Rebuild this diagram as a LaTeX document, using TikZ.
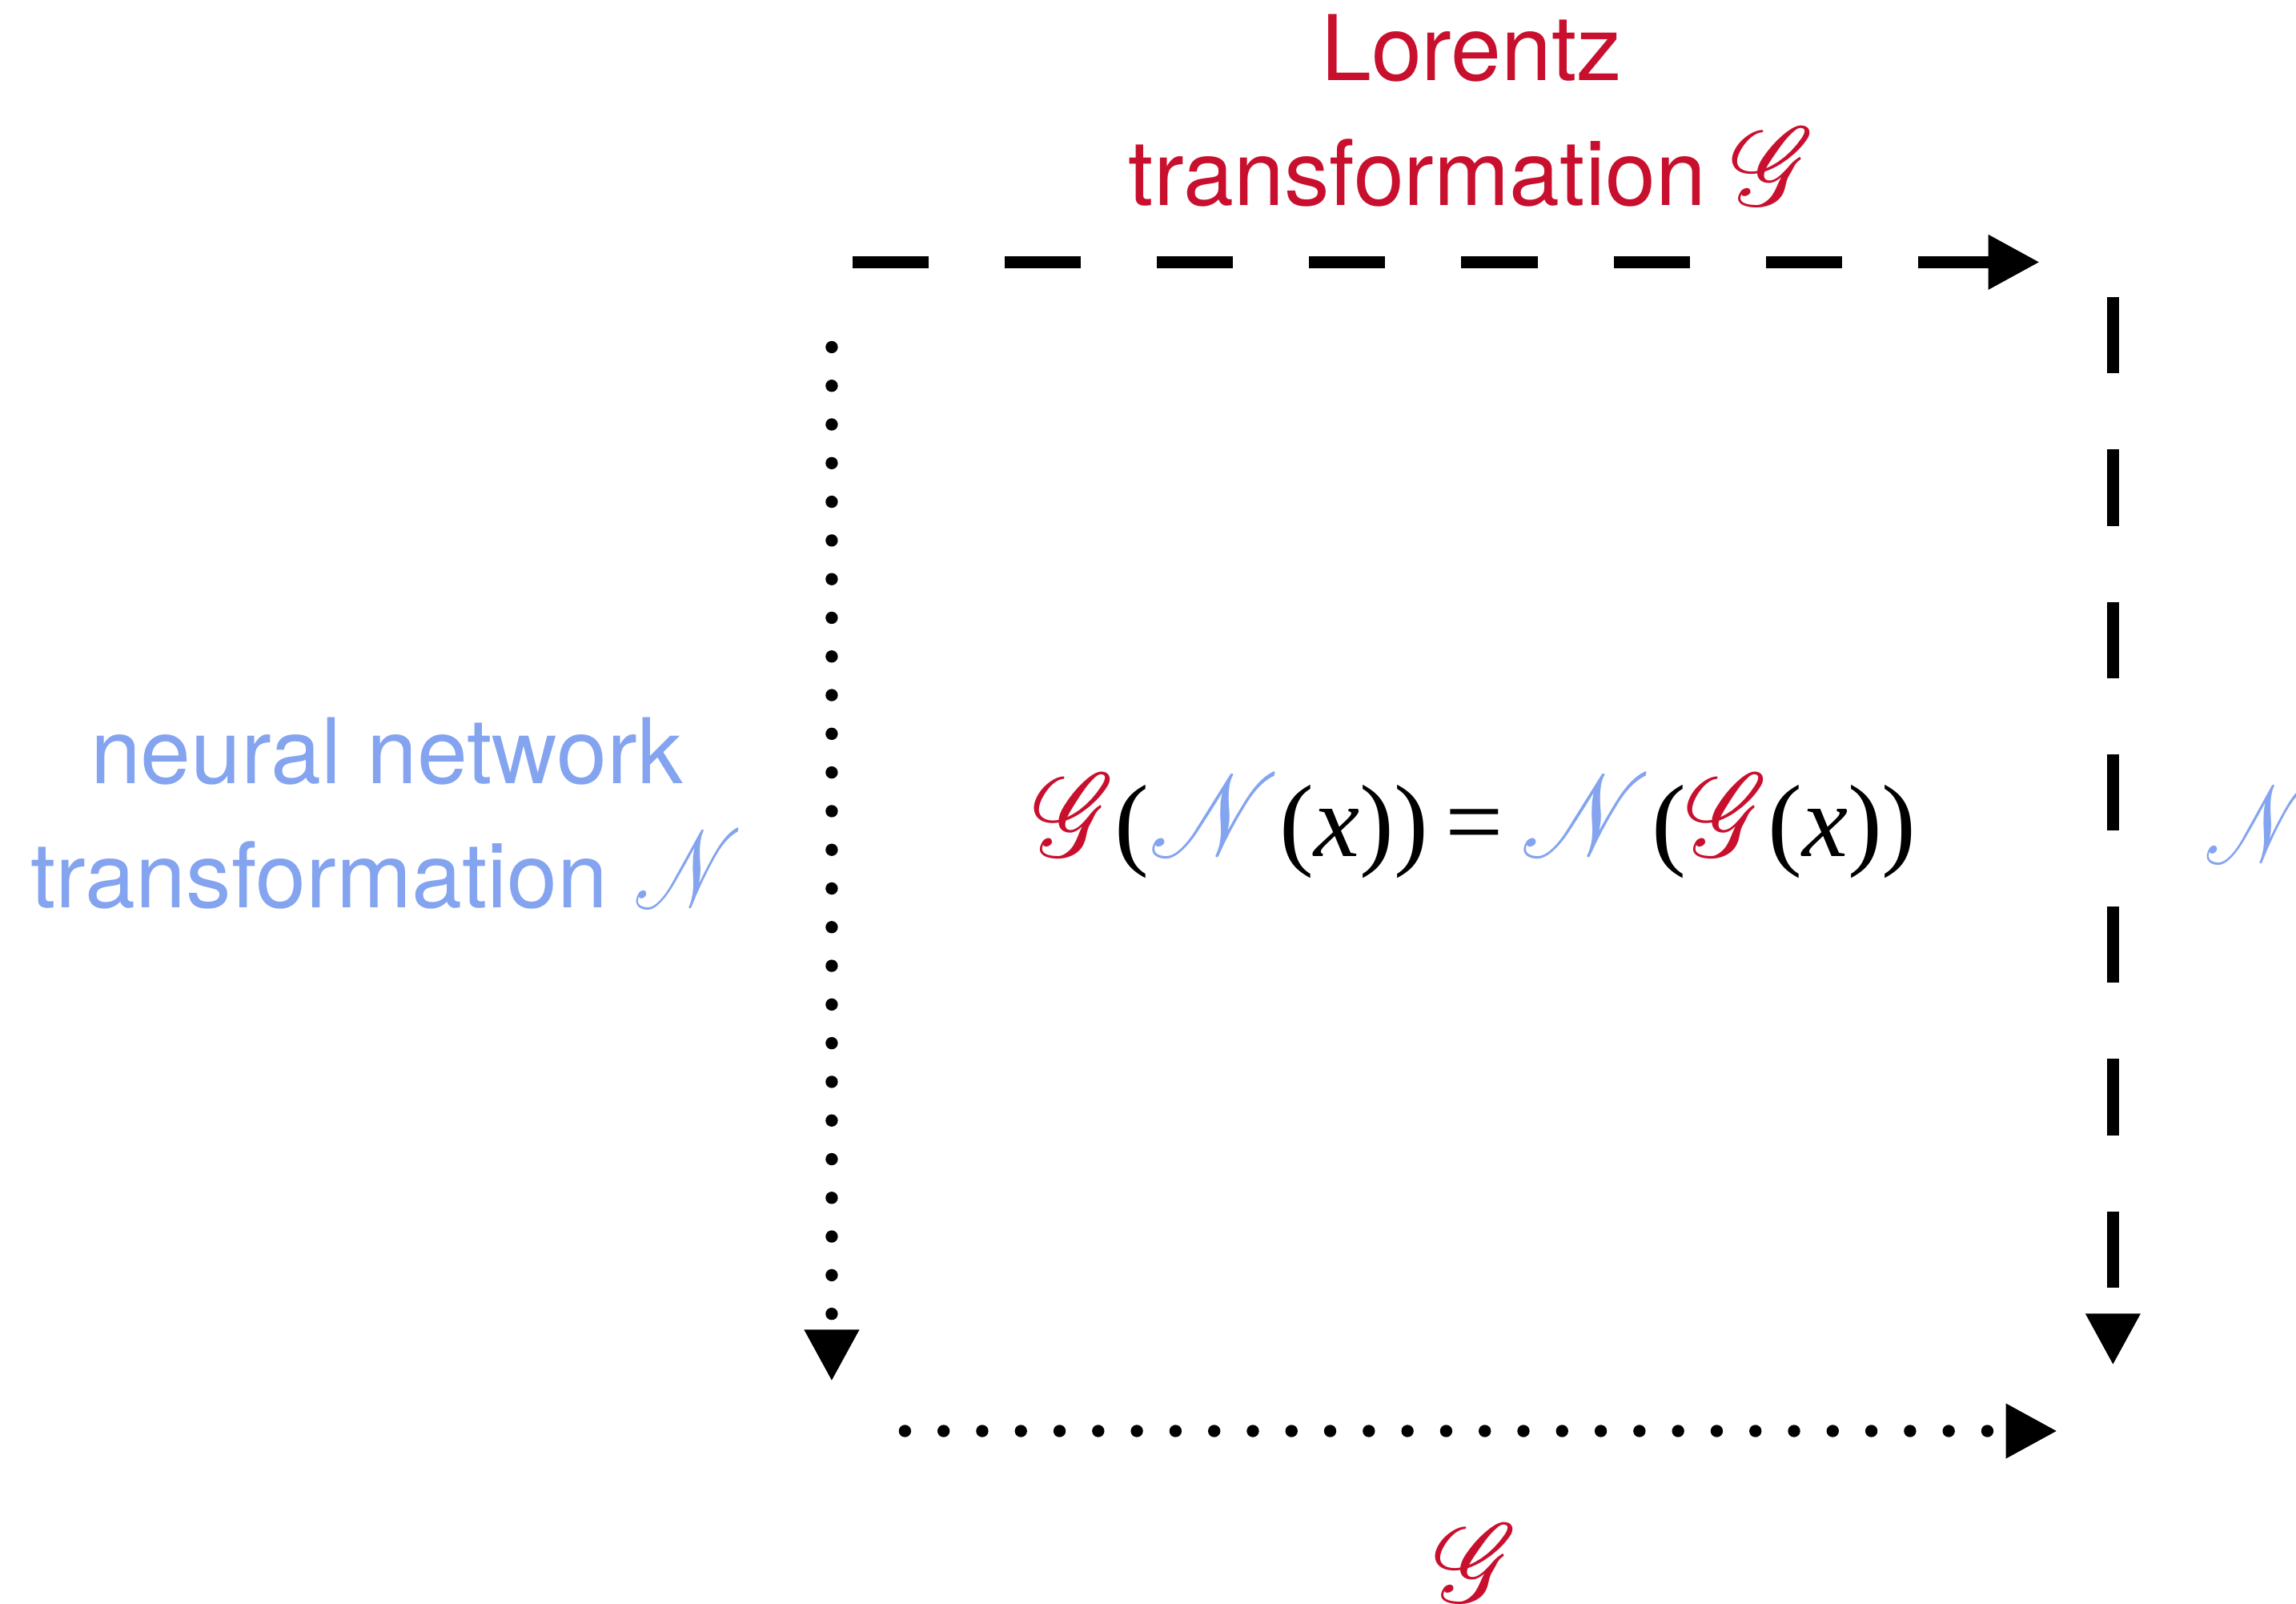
\documentclass[tikz,border=0pt]{standalone}
\usepackage{mathrsfs}
\usepackage[no-math]{fontspec}
\setmainfont{TeX Gyre Heros}
\newfontfamily\eqfont{Liberation Serif}
\usetikzlibrary{arrows.meta,positioning}
\definecolor{LorentzRed}{RGB}{200,16,46}
\definecolor{NetBlue}{RGB}{132,164,240}

% script letters, a little taller than rsfs
\newcommand{\scrG}[2]{\scalebox{#1}[#2]{$\mathscr{G}$}}
\newcommand{\scrN}[2]{\scalebox{#1}[#2]{$\mathscr{N}$}}
\newcommand{\LorG}{\textcolor{LorentzRed}{\scrG{1.02}{1.15}}}
\newcommand{\NetN}{\textcolor{NetBlue}{\scrN{1.02}{1.15}}}

\tikzset{
  mapdash/.style={line width=1.05mm,dash pattern=on 6.5mm off 6.5mm,-{Triangle[length=4.4mm,width=4.4mm]}},
  mapdot/.style={line width=1.05mm,line cap=round,dash pattern=on 0pt off 3.3mm,-{Triangle[length=4.4mm,width=4.4mm]}},
  lbl/.style={font=\fontsize{22}{26}\selectfont,inner sep=0pt,anchor=base},
}

\begin{document}
\begin{tikzpicture}[x=0.125mm,y=0.125mm]
    \useasboundingbox (0,0) rectangle (1568,1095);
    % corners of the square
    \coordinate (gStart) at (582,916);
    \coordinate (gEnd)   at (1393,916);
    \coordinate (nRStart) at (1443,892);
    \coordinate (nREnd)   at (1443,163);
    \coordinate (nLStart) at (568,858);
    \coordinate (nLEnd)   at (568,152);
    \coordinate (gBStart) at (618,118);
    \coordinate (gBEnd)   at (1405,118);
    % labels
    \node[lbl,text=LorentzRed] (lorentz) at (1005,1040) {Lorentz};
    \node[lbl,text=LorentzRed] (lorentzT) at (1005,955) {transformation \scrG{1.25}{1.3}};
    \node[lbl,text=NetBlue] (neural) at (264,560) {neural network};
    \node[lbl,text=NetBlue] (neuralT) at (264,475) {transformation \scrN{1.02}{1.3}};
    \node[lbl,font=\fontsize{25}{30}\eqfont] (commute) at (1007,510)
      {\LorG(\NetN(\textit{x}))\,=\,\NetN(\LorG(\textit{x}))};
    \node[lbl,anchor=base west,text=NetBlue] (netR) at (1505,506) {\scrN{1.02}{1.3}};
    \node[lbl,text=LorentzRed] (lorentzB) at (1008,1) {\scrG{1.25}{1.3}};
    % arrows
    \draw[mapdash] (gStart) -- (gEnd);
    \draw[mapdash] (nRStart) -- (nREnd);
    \draw[mapdot] (nLStart) -- (nLEnd);
    \draw[mapdot] (gBStart) -- (gBEnd);
\end{tikzpicture}
\end{document}
